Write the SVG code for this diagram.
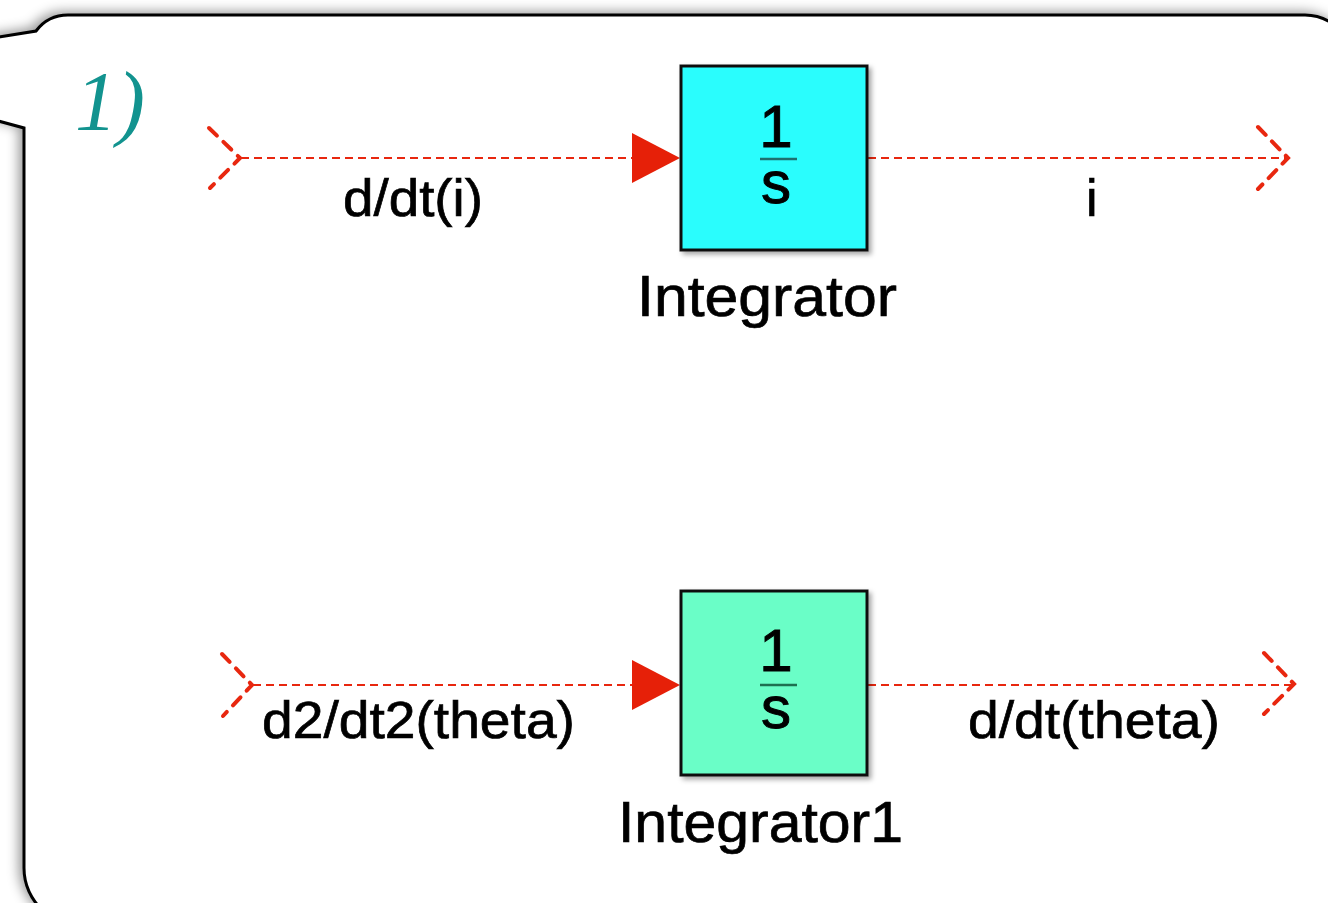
<svg xmlns="http://www.w3.org/2000/svg" width="1328" height="903" viewBox="0 0 1328 903">
  <defs>
    <filter id="bubbleShadow" x="-10%" y="-10%" width="120%" height="120%">
      <feDropShadow dx="-4" dy="-2" stdDeviation="6" flood-color="#000" flood-opacity="0.4"/>
    </filter>
    <filter id="blockShadow" x="-10%" y="-10%" width="125%" height="125%">
      <feDropShadow dx="3" dy="3" stdDeviation="2.5" flood-color="#000" flood-opacity="0.35"/>
    </filter>
    <marker id="arrow" markerUnits="userSpaceOnUse" markerWidth="50" markerHeight="52" refX="48" refY="26" orient="auto">
      <polygon points="0,1 48,26 0,51" fill="#e62008"/>
    </marker>
    <style>
      .wire { fill: none; stroke: #e8270f; stroke-width: 2; stroke-dasharray: 8 5; }
      .port { fill: none; stroke: #e8270f; stroke-width: 4; stroke-dasharray: 11 9; stroke-linecap: round; }
      .block { stroke: #111; stroke-width: 3; }
      .frac { font-family: "Liberation Sans", Arial, sans-serif; font-size: 60px; fill: #000; stroke: #000; stroke-width: 1; text-anchor: middle; }
      .label { font-family: "Liberation Sans", Arial, sans-serif; font-size: 52px; fill: #000; stroke: #000; stroke-width: 0.7; }
      .name { font-family: "Liberation Sans", Arial, sans-serif; font-size: 57px; fill: #000; stroke: #000; stroke-width: 0.7; }
    </style>
  </defs>
  <rect width="1328" height="903" fill="#ffffff"/>
  <path d="M -20,116 L 24,128 L 24,868 Q 24,893 44,912 L 1350,912 L 1350,40 Q 1330,15 1305,15 L 68,15 Q 48,15 36,31 L -20,40 Z" fill="#ffffff" stroke="#000" stroke-width="3" filter="url(#bubbleShadow)"/>
  <text x="75" y="130" font-family="Liberation Serif, 'Times New Roman', serif" font-style="italic" font-size="84" fill="#12938f">1)</text>

  <g id="connectors">
    <line class="wire" x1="241" y1="158" x2="680" y2="158" marker-end="url(#arrow)"/>
    <line class="wire" x1="868" y1="158" x2="1286" y2="158"/>
    <line class="wire" x1="253" y1="685" x2="680" y2="685" marker-end="url(#arrow)"/>
    <line class="wire" x1="868" y1="685" x2="1293" y2="685"/>
    <text class="label" x="343" y="216" textLength="140" lengthAdjust="spacingAndGlyphs">d/dt(i)</text>
    <text class="label" x="1086" y="216">i</text>
    <text class="label" x="262" y="738" textLength="313" lengthAdjust="spacingAndGlyphs">d2/dt2(theta)</text>
    <text class="label" x="968" y="738" textLength="252" lengthAdjust="spacingAndGlyphs">d/dt(theta)</text>
  </g>

  <g id="port_in_i">
    <polyline class="port" points="209,128 240,158 210,188"/>
  </g>
  <g id="port_out_i">
    <polyline class="port" points="1258,127 1288,158 1258,189"/>
  </g>
  <g id="port_in_theta">
    <polyline class="port" points="222,654 252,685 223,716"/>
  </g>
  <g id="port_out_theta">
    <polyline class="port" points="1264,653 1294,684 1264,714"/>
  </g>

  <g id="Integrator">
    <rect class="block" x="681" y="66" width="186" height="184" fill="#2afdfd" filter="url(#blockShadow)"/>
    <text class="frac"><tspan x="776" y="147">1</tspan><tspan x="776" y="203">s</tspan></text>
    <line x1="760" y1="159" x2="797" y2="159" stroke="#1e6f6f" stroke-width="2.5"/>
    <text class="name" x="637" y="316" textLength="260" lengthAdjust="spacingAndGlyphs">Integrator</text>
  </g>

  <g id="Integrator1">
    <rect class="block" x="681" y="591" width="186" height="184" fill="#6bfec7" filter="url(#blockShadow)"/>
    <text class="frac"><tspan x="776" y="671">1</tspan><tspan x="776" y="728">s</tspan></text>
    <line x1="760" y1="685" x2="797" y2="685" stroke="#1e6f50" stroke-width="2.5"/>
    <text class="name" x="618" y="842" textLength="285" lengthAdjust="spacingAndGlyphs">Integrator1</text>
  </g>
</svg>
